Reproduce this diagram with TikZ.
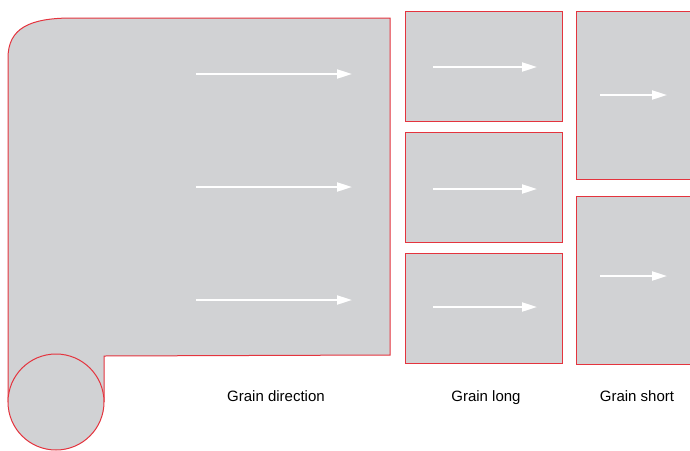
\documentclass[tikz,border=0pt]{standalone}
\usepackage{fontspec}
\setmainfont{Liberation Sans}
\usetikzlibrary{arrows.meta}
\definecolor{sheetgray}{RGB}{209,210,212}
\definecolor{edgered}{RGB}{228,52,62}
\begin{document}
\begin{tikzpicture}[x=1pt,y=-1pt,
    sheet/.style={fill=sheetgray,draw=edgered,line width=1pt},
    grain/.style={white,line width=2pt,-{Triangle[length=15pt,width=9pt]}},
    caption/.style={font=\fontsize{15}{17}\selectfont,anchor=base}]
     \useasboundingbox (0,0) rectangle (690,450);
     % roll of paper
     \draw[sheet] (8,402) -- (8,58) .. controls (8,28) and (30,18) .. (72,18)
        -- (390,18) -- (390,355) -- (104,356) -- (104,402);
     \draw[sheet] (56,402) circle [radius=48];
     \draw[grain] (196,74) -- (352,74);
     \draw[grain] (196,187) -- (352,187);
     \draw[grain] (196,300) -- (352,300);
     % grain long
     \draw[sheet] (405,11) rectangle (562,121);
     \draw[sheet] (405,132) rectangle (562,242);
     \draw[sheet] (405,253) rectangle (562,363);
     \draw[grain] (433,67) -- (537,67);
     \draw[grain] (433,189) -- (537,189);
     \draw[grain] (433,307) -- (537,307);
     % grain short
     \draw[sheet] (576,11) rectangle (700,179);
     \draw[sheet] (576,196) rectangle (700,364);
     \draw[grain] (600,95) -- (667,95);
     \draw[grain] (600,276) -- (667,276);
     \node[caption] (dir) at (276,401) {Grain direction};
     \node[caption] (long) at (486,401) {Grain long};
     \node[caption] (short) at (637,401) {Grain short};
\end{tikzpicture}
\end{document}
